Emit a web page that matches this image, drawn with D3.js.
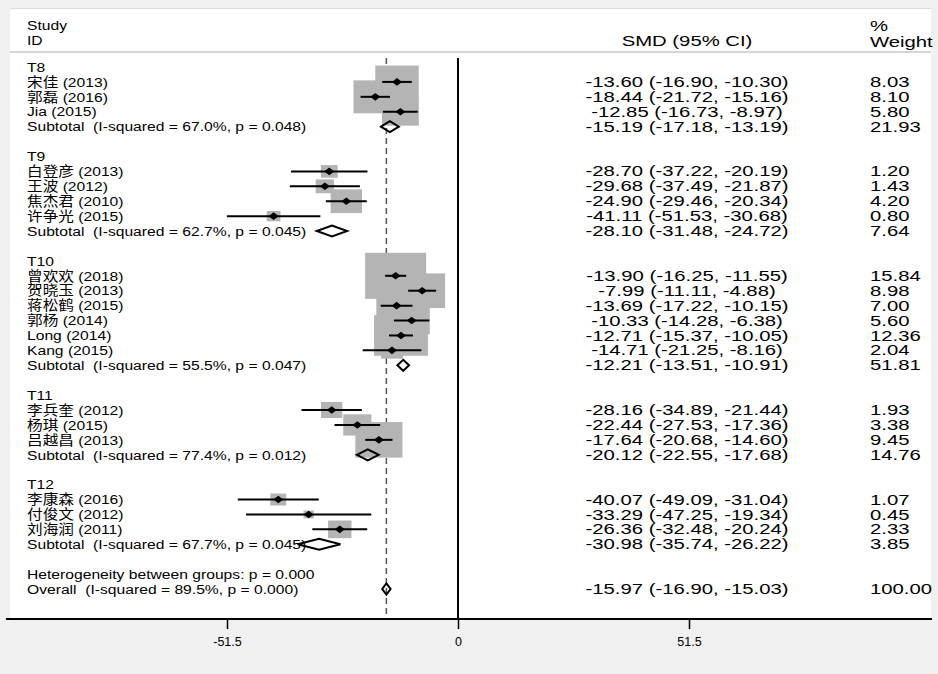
<!DOCTYPE html>
<html><head><meta charset="utf-8">
<script src="https://cdn.jsdelivr.net/npm/d3@7/dist/d3.min.js"></script>
<style>
body{margin:0;background:#f0f0f0}
svg{display:block}
text{white-space:pre;font-family:"Liberation Sans",Arial,"Noto Sans CJK SC",sans-serif;fill:#000}
</style>
</head><body>
<svg id="chart" width="938" height="674"></svg>
<script>
// ---- data ----
const labels = [
  "T8","宋佳 (2013)","郭磊 (2016)","Jia (2015)","Subtotal  (I-squared = 67.0%, p = 0.048)","",
  "T9","白登彦 (2013)","王波 (2012)","焦杰君 (2010)","许争光 (2015)","Subtotal  (I-squared = 62.7%, p = 0.045)","",
  "T10","曾欢欢 (2018)","贺晓玉 (2013)","蒋松鹤 (2015)","郭杨 (2014)","Long (2014)","Kang (2015)","Subtotal  (I-squared = 55.5%, p = 0.047)","",
  "T11","李兵奎 (2012)","杨琪 (2015)","吕越昌 (2013)","Subtotal  (I-squared = 77.4%, p = 0.012)","",
  "T12","李康森 (2016)","付俊文 (2012)","刘海润 (2011)","Subtotal  (I-squared = 67.7%, p = 0.045)","",
  "Heterogeneity between groups: p = 0.000","Overall  (I-squared = 89.5%, p = 0.000)"
];
const kinds = [
  "g","s","s","s","sub","",
  "g","s","s","s","s","sub","",
  "g","s","s","s","s","s","s","sub","",
  "g","s","s","s","sub","",
  "g","s","s","s","sub","",
  "het","all"
];
const smd = [
  null,-13.60,-18.44,-12.85,-15.19,null,
  null,-28.70,-29.68,-24.90,-41.11,-28.10,null,
  null,-13.90,-7.99,-13.69,-10.33,-12.71,-14.71,-12.21,null,
  null,-28.16,-22.44,-17.64,-20.12,null,
  null,-40.07,-33.29,-26.36,-30.98,null,
  null,-15.97
];
const ciLow = [
  null,-16.90,-21.72,-16.73,-17.18,null,
  null,-37.22,-37.49,-29.46,-51.53,-31.48,null,
  null,-16.25,-11.11,-17.22,-14.28,-15.37,-21.25,-13.51,null,
  null,-34.89,-27.53,-20.68,-22.55,null,
  null,-49.09,-47.25,-32.48,-35.74,null,
  null,-16.90
];
const ciHigh = [
  null,-10.30,-15.16,-8.97,-13.19,null,
  null,-20.19,-21.87,-20.34,-30.68,-24.72,null,
  null,-11.55,-4.88,-10.15,-6.38,-10.05,-8.16,-10.91,null,
  null,-21.44,-17.36,-14.60,-17.68,null,
  null,-31.04,-19.34,-20.24,-26.22,null,
  null,-15.03
];
const weights = [
  null,8.03,8.10,5.80,21.93,null,
  null,1.20,1.43,4.20,0.80,7.64,null,
  null,15.84,8.98,7.00,5.60,12.36,2.04,51.81,null,
  null,1.93,3.38,9.45,14.76,null,
  null,1.07,0.45,2.33,3.85,null,
  null,100.00
];
const tickValues = [-51.5, 0, 51.5];
const tickLabels = ["-51.5", "0", "51.5"];
const overallEffect = -15.97;

// ---- drawing ----
const svg = d3.select("#chart");
const x = d3.scaleLinear().domain([-51.5, 51.5]).range([227, 689]);
const y = d3.scaleLinear().domain([0, labels.length - 1]).range([67, 589]);
const bw = d3.scaleSqrt().domain([0, 100]).range([0, 153.3]);
const bh = d3.scaleSqrt().domain([0, 100]).range([0, 115.6]);
const f2 = d3.formatLocale({decimal: ".", thousands: ",", grouping: [3], currency: ["", ""], minus: "-"}).format(".2f");

// panel
svg.append("rect").attr("x",10).attr("y",8).attr("width",921).attr("height",611).attr("fill","#fff");
svg.append("line").attr("x1",10).attr("x2",931).attr("y1",8.5).attr("y2",8.5).attr("stroke","#dcdcdc").attr("stroke-width",1);
svg.append("line").attr("x1",10).attr("x2",931).attr("y1",52).attr("y2",52).attr("stroke","#c8c8c8").attr("stroke-width",1.5);

// header
function leftText(t, xx, yy){
  return svg.append("text").attr("transform",`translate(${xx},${yy}) scale(1.16,1)`)
    .attr("dy","0.35em").style("font-size","13.5px").text(t);
}
function rightText(t, xx, yy, anchor){
  return svg.append("text").attr("transform",`translate(${xx},${yy}) scale(1.4,1)`)
    .attr("dy","0.35em").attr("text-anchor",anchor).style("font-size","14.5px").text(t);
}
leftText("Study", 27, 25);
leftText("ID", 27, 40);
rightText("SMD (95% CI)", 687, 41, "middle");
rightText("%", 870, 26, "start");
rightText("Weight", 870, 42, "start");

// reference lines
svg.append("line").attr("x1",x(overallEffect)).attr("x2",x(overallEffect)).attr("y1",58).attr("y2",619)
  .attr("stroke","#555").attr("stroke-width",1.5).attr("stroke-dasharray","6,4");
svg.append("line").attr("x1",x(0)).attr("x2",x(0)).attr("y1",58).attr("y2",619)
  .attr("stroke","#000").attr("stroke-width",2);

const idx = d3.range(labels.length);
const studies = idx.filter(i => kinds[i] === "s");
const diamonds = idx.filter(i => kinds[i] === "sub" || kinds[i] === "all");

// boxes
svg.append("g").selectAll("rect").data(studies).join("rect")
  .attr("x", i => x(smd[i]) - bw(weights[i]) / 2)
  .attr("y", i => y(i) - bh(weights[i]) / 2)
  .attr("width", i => bw(weights[i]))
  .attr("height", i => bh(weights[i]))
  .attr("fill", "#b4b4b4");

// CI lines
svg.append("g").selectAll("line").data(studies).join("line")
  .attr("x1", i => x(ciLow[i])).attr("x2", i => x(ciHigh[i]))
  .attr("y1", i => y(i)).attr("y2", i => y(i))
  .attr("stroke", "#000").attr("stroke-width", 2);

// point markers
svg.append("g").selectAll("path").data(studies).join("path")
  .attr("d", i => {
    const cx = x(smd[i]), cy = y(i);
    return `M${cx-5},${cy}L${cx},${cy-3.8}L${cx+5},${cy}L${cx},${cy+3.8}Z`;
  })
  .attr("fill", "#000");

// pooled diamonds
svg.append("g").selectAll("path").data(diamonds).join("path")
  .attr("d", i => {
    const cy = y(i);
    return `M${x(ciLow[i])},${cy}L${x(smd[i])},${cy-5.5}L${x(ciHigh[i])},${cy}L${x(smd[i])},${cy+5.5}Z`;
  })
  .attr("fill", "none").attr("stroke", "#000").attr("stroke-width", 2).attr("stroke-linejoin","miter");

// labels
idx.forEach(i => { if (labels[i]) leftText(labels[i], 27, y(i)); });

// effect text + weights
idx.filter(i => smd[i] !== null).forEach(i => {
  rightText(`${f2(smd[i])} (${f2(ciLow[i])}, ${f2(ciHigh[i])})`, 687, y(i), "middle");
  rightText(f2(weights[i]), 870, y(i), "start");
});

// axis
svg.append("line").attr("x1",6).attr("x2",932).attr("y1",619).attr("y2",619).attr("stroke","#000").attr("stroke-width",2);
const axis = d3.axisBottom(x).tickValues(tickValues).tickFormat((d,k) => tickLabels[k]).tickSize(10).tickPadding(8);
const ag = svg.append("g").attr("transform","translate(0,619)").call(axis);
ag.select(".domain").remove();
ag.selectAll(".tick line").attr("stroke","#000").attr("stroke-width",1.5);
ag.selectAll(".tick text").style("font-size","12.5px").style("font-family","'Liberation Sans',Arial,sans-serif").attr("fill","#000");
</script>
</body></html>
